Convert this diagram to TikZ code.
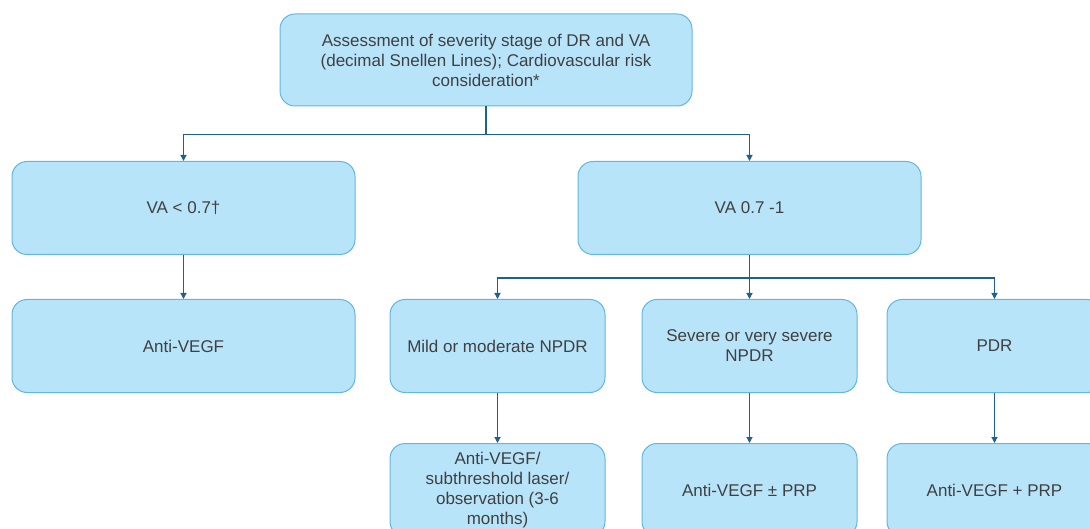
\documentclass[tikz,border=0pt]{standalone}
\usepackage{fontspec}
\setmainfont{Liberation Sans}
\usetikzlibrary{positioning,arrows.meta}

\definecolor{boxfill}{HTML}{B8E4FA}
\definecolor{boxline}{HTML}{62B7DE}
\definecolor{linkline}{HTML}{215F8E}
\definecolor{boxtext}{HTML}{404040}

\begin{document}
\begin{tikzpicture}[x=1pt,y=-1pt]
		\tikzstyle{stage} = [rectangle, rounded corners=15pt, minimum width=343pt, minimum height=93pt, text centered, align=center, fill=boxfill, draw=boxline, line width=1pt, text=boxtext, font=\fontsize{17}{20}\selectfont]
		\tikzstyle{substage} = [stage, minimum width=215pt]
		\tikzstyle{link} = [draw=linkline, line width=1.2pt, -{Triangle[length=6pt,width=6pt]}]

		\useasboundingbox (0,0) rectangle (1090,529);

		\node (assessment) [stage, minimum width=412pt, minimum height=92pt] at (486,60) {Assessment of severity stage of DR and VA\\(decimal Snellen Lines); Cardiovascular risk\\consideration*};

		\node (vaLow) [stage] at (183.5,208) {VA < 0.7†};
		\node (vaHigh) [stage] at (749.5,208) {VA 0.7 -1};

		\node (antiVegf) [stage, below = 44pt of vaLow] {Anti-VEGF};

		\begin{scope}[node distance=44pt]
			\node (severeNpdr) [substage, below = of vaHigh] {Severe or very severe\\NPDR};
			\node (mildNpdr) [substage, left = 36pt of severeNpdr] {Mild or moderate NPDR};
			\node (pdr) [substage, right = 29pt of severeNpdr] {PDR};
		\end{scope}

		\begin{scope}[node distance=50pt]
			\node (mildTherapy) [substage, below = of mildNpdr] {Anti-VEGF/\\subthreshold laser/\\observation (3-6\\months)};
			\node (severeTherapy) [substage, below = of severeNpdr] {Anti-VEGF ± PRP};
			\node (pdrTherapy) [substage, below = of pdr] {Anti-VEGF + PRP};
		\end{scope}

		\draw [link] (assessment.south) -- ++(0,28) -| (vaLow.north);
		\draw [link] (assessment.south) -- ++(0,28) -| (vaHigh.north);

		\draw [link] (vaLow) -- (antiVegf);

		\draw [link] (vaHigh.south) -- ++(0,23) -| (mildNpdr.north);
		\draw [link] (vaHigh.south) -- (severeNpdr.north);
		\draw [link] (vaHigh.south) -- ++(0,23) -| (pdr.north);

		\draw [link] (mildNpdr) -- (mildTherapy);
		\draw [link] (severeNpdr) -- (severeTherapy);
		\draw [link] (pdr) -- (pdrTherapy);

	\end{tikzpicture}
\end{document}
